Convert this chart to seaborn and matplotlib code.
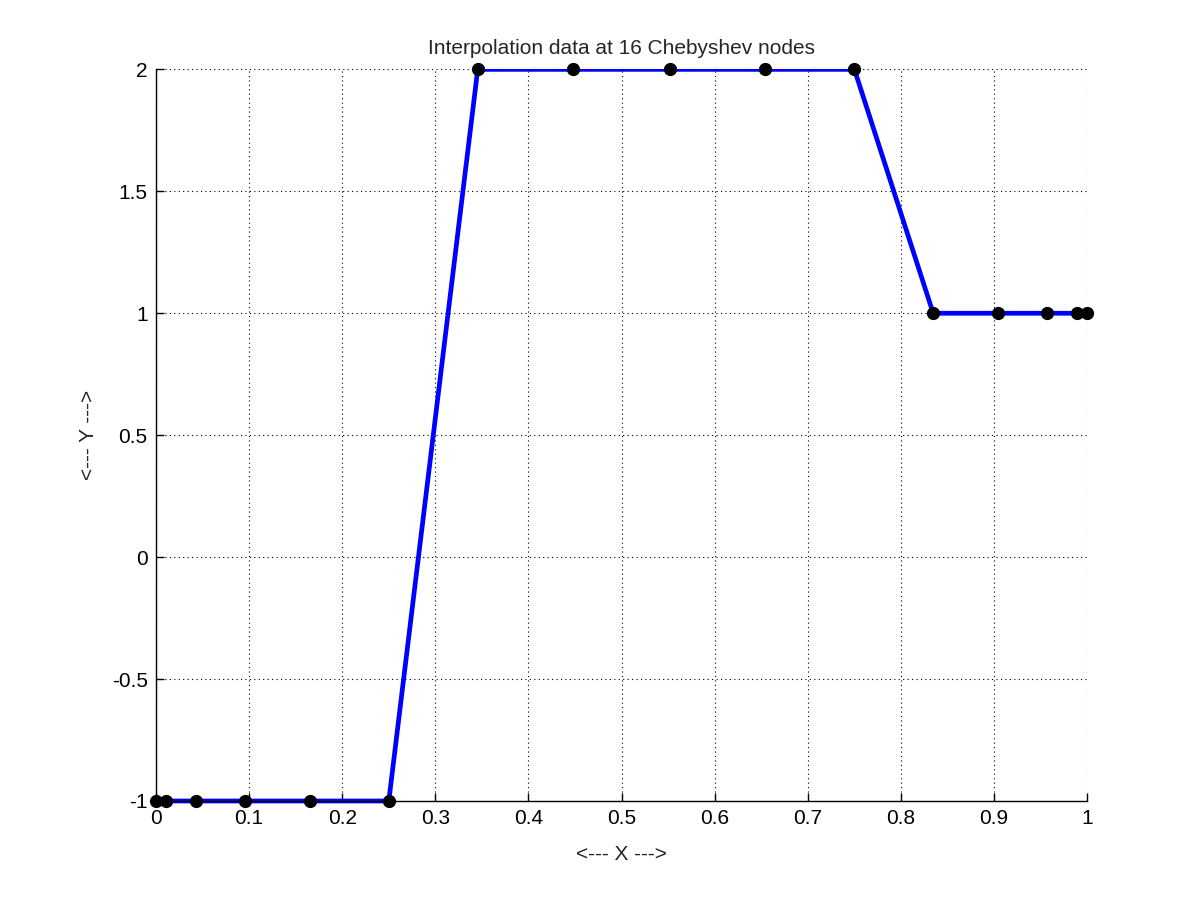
import numpy as np
import pandas as pd
import matplotlib
matplotlib.use("Agg")
import matplotlib.pyplot as plt
from matplotlib.patches import Rectangle
import seaborn as sns


# DATA

x_nodes = [0.0, 0.0109, 0.0432, 0.0955, 0.1654, 0.25, 0.3455, 0.4477,
           0.5523, 0.6545, 0.75, 0.8346, 0.9045, 0.9568, 0.9891, 1.0]
y_nodes = [-1, -1, -1, -1, -1, -1, 2, 2, 2, 2, 2, 1, 1, 1, 1, 1]

x_ticks = [0, 0.1, 0.2, 0.3, 0.4, 0.5, 0.6, 0.7, 0.8, 0.9, 1]
x_tick_labels = ["0", "0.1", "0.2", "0.3", "0.4", "0.5", "0.6", "0.7", "0.8", "0.9", "1"]
y_ticks = [-1, -0.5, 0, 0.5, 1, 1.5, 2]
y_tick_labels = ["-1", "-0.5", "0", "0.5", "1", "1.5", "2"]

df = pd.DataFrame({"x": x_nodes, "y": y_nodes})


# PLOT

sns.set_style("white")
plt.rcParams["font.family"] = ["Liberation Sans", "DejaVu Sans"]

fig = plt.figure(figsize=(12, 9.01), dpi=100)
ax = fig.add_axes([0.13, 0.111, 0.776, 0.812])

sns.lineplot(data=df, x="x", y="y", ax=ax, color="#0000ff", linewidth=3.4,
             sort=False, estimator=None)
line = ax.lines[0]
# clip only at the top, like the reference
clip = Rectangle((0, -0.1), 1, 1.1, transform=ax.transAxes, facecolor="none")
line.set_clip_path(clip)

ax.plot(x_nodes, y_nodes, linestyle="none", marker="o", markersize=8.5,
        color="black", clip_on=False, zorder=5)

ax.set_xlim(0, 1)
ax.set_ylim(-1, 2)
ax.set_xticks(x_ticks)
ax.set_xticklabels(x_tick_labels)
ax.set_yticks(y_ticks)
ax.set_yticklabels(y_tick_labels)

ax.grid(True, linestyle=(0, (1, 3)), color="black", linewidth=0.8)
ax.set_axisbelow(True)

for s in ["top", "right"]:
    ax.spines[s].set_visible(False)
for s in ["left", "bottom"]:
    ax.spines[s].set_color("black")
    ax.spines[s].set_linewidth(1.0)

ax.tick_params(direction="in", length=6, width=1, colors="black",
               labelsize=15, pad=6, left=True, bottom=True)

ax.set_title("Interpolation data at 16 Chebyshev nodes", fontsize=15, pad=11)
ax.set_xlabel("<--- X --->", fontsize=15, labelpad=12)
ax.set_ylabel("<--- Y --->", fontsize=15, labelpad=10)

fig.savefig("out.png", dpi=100, facecolor="white")
